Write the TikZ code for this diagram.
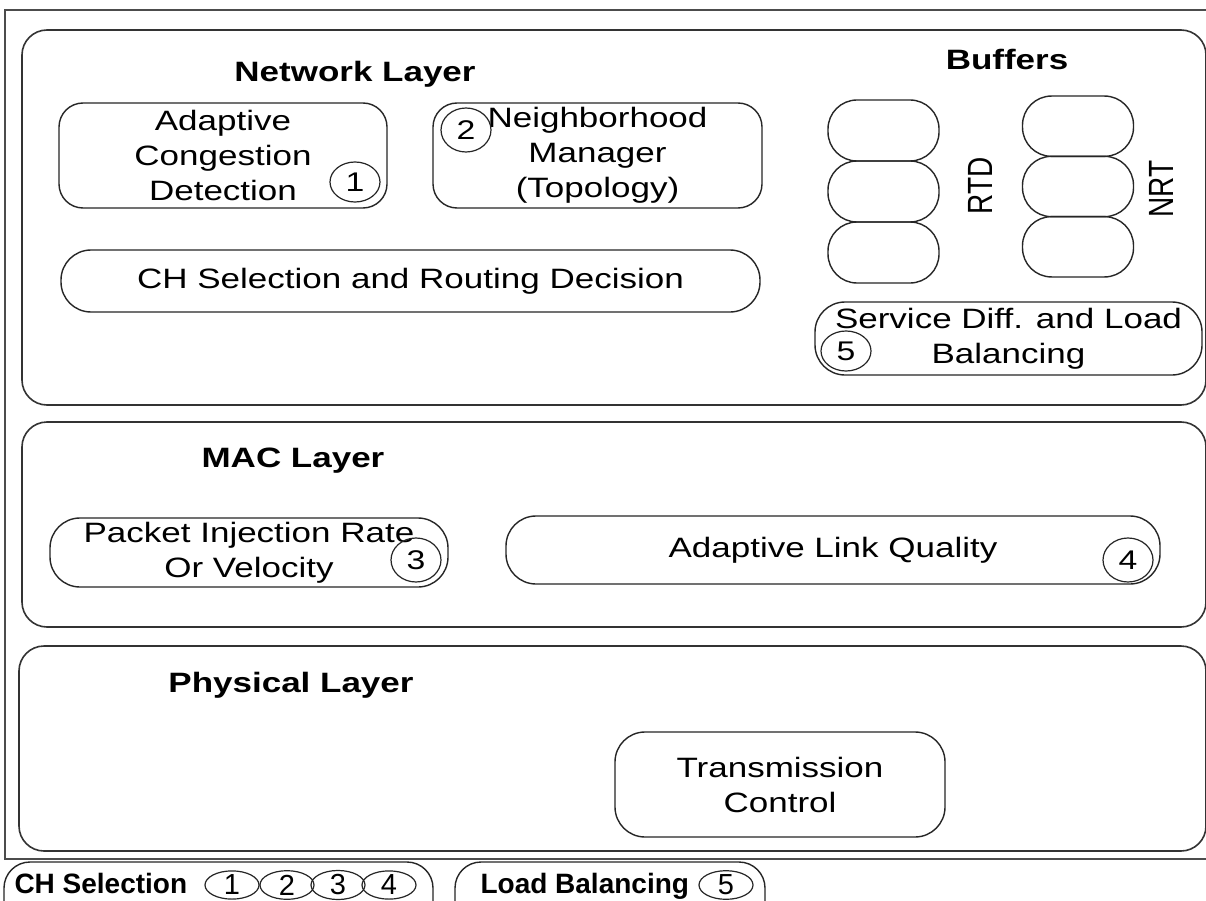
\documentclass[tikz,border=0pt]{standalone}
\usepackage{fontspec}
\setmainfont{Liberation Sans}[FakeStretch=1.25]
\newfontfamily\legfont{Liberation Sans}
\usetikzlibrary{shapes.geometric}
\begin{document}
\begin{tikzpicture}[x=1pt,y=-1pt,
  frame/.style={draw=black!70, line width=1.6pt, minimum width=1230pt, minimum height=849pt, inner sep=0pt},
  layer/.style={draw=black!80, line width=1.6pt, rounded corners=25pt, minimum width=1184pt, inner sep=0pt},
  box/.style={draw=black!85, line width=1.4pt, rounded corners=24pt, align=center, inner sep=0pt,
              font=\fontsize{28}{35}\selectfont},
  cell/.style={draw=black!85, line width=1.4pt, rounded corners=29pt, minimum width=111pt, inner sep=0pt},
  num/.style={ellipse, draw=black!85, line width=1.2pt, inner sep=0pt, minimum width=50pt, minimum height=40pt,
              font=\fontsize{27}{27}\selectfont},
  lnum/.style={ellipse, draw=black!85, line width=1.2pt, inner sep=0pt, minimum width=54pt, minimum height=27pt,
              font=\legfont\fontsize{29}{29}\selectfont},
  title/.style={anchor=base, font=\bfseries\fontsize{28}{35}\selectfont},
  legtext/.style={anchor=base west, font=\legfont\bfseries\fontsize{28}{28}\selectfont},
  pill/.style={draw=black!85, line width=1.4pt, rounded corners=26pt, minimum height=70pt, inner sep=0pt},
  vtext/.style={rotate=90, font=\legfont\fontsize{28}{28}\selectfont}
]
\clip (0,0) rectangle (1206,901);
\fill[white] (0,0) rectangle (1206,901);

% outer frame
\node[frame] (outer) at (620,434.5) {};

% layers
\node[layer, minimum height=375pt] (net) at (614,217.5) {};
\node[layer, minimum height=205pt] (mac) at (614,524.5) {};
\node[layer, minimum height=205pt, minimum width=1187pt] (phy) at (612.5,748.5) {};

% titles
\node[title] (nettitle) at (355,82) {Network Layer};
\node[title] (buftitle) at (1007,70) {Buffers};
\node[title] (mactitle) at (293,467) {MAC Layer};
\node[title] (phytitle) at (291,692) {Physical Layer};

% network layer boxes
\node[box, minimum width=328pt, minimum height=105pt] (acd) at (223,155.5) {Adaptive\\Congestion\\Detection};
\node[num] (n1) at (355,182) {1};
\node[box, minimum width=329pt, minimum height=105pt] (nm) at (597.5,155.5) {Neighborhood\\Manager\\(Topology)};
\node[num, minimum height=44pt] (n2) at (466,130) {2};
\node[box, rounded corners=30pt, minimum width=699pt, minimum height=62pt] (ch) at (410.5,281) {CH Selection and Routing Decision};

% buffers
\node[cell, minimum height=61pt] (r1) at (883.5,130.5) {};
\node[cell, minimum height=61pt] (r2) at (883.5,191.5) {};
\node[cell, minimum height=61pt] (r3) at (883.5,252.5) {};
\node[vtext] (rtd) at (980,186) {\scalebox{1}[1.25]{RTD}};
\node[cell, minimum height=60.3pt] (q1) at (1078,126.2) {};
\node[cell, minimum height=60.3pt] (q2) at (1078,186.5) {};
\node[cell, minimum height=60.3pt] (q3) at (1078,246.8) {};
\node[vtext] (nrt) at (1161,189) {\scalebox{1}[1.25]{NRT}};

\node[box, rounded corners=30pt, minimum width=387pt, minimum height=73pt] (svc) at (1008.5,338.5) {Service Diff. and Load\\Balancing};
\node[num] (n5) at (846,351) {5};

% MAC layer boxes
\node[box, rounded corners=30pt, minimum width=398pt, minimum height=69pt] (pkt) at (249,552.5) {Packet Injection Rate\\Or Velocity};
\node[num, minimum height=44pt] (n3) at (416,560) {3};
\node[box, rounded corners=30pt, minimum width=654pt, minimum height=68pt] (alq) at (833,550) {Adaptive Link Quality};
\node[num, minimum height=44pt] (n4) at (1128,560) {4};

% physical layer box
\node[box, rounded corners=30pt, minimum width=330pt, minimum height=105pt] (tc) at (780,784.5) {Transmission\\Control};

% legend
\node[pill, minimum width=429pt] (leg1) at (218.5,897) {};
\node[legtext] (legch) at (11,893) {CH Selection};
\node[lnum] (l1) at (232,885) {1};
\node[lnum] (l2) at (287,885) {2};
\node[lnum] (l3) at (338,885) {3};
\node[lnum] (l4) at (389,885) {4};
\node[pill, minimum width=310pt] (leg2) at (610,897) {};
\node[legtext] (leglb) at (477,893) {Load Balancing};
\node[lnum] (l5) at (726,885) {5};
\end{tikzpicture}
\end{document}
